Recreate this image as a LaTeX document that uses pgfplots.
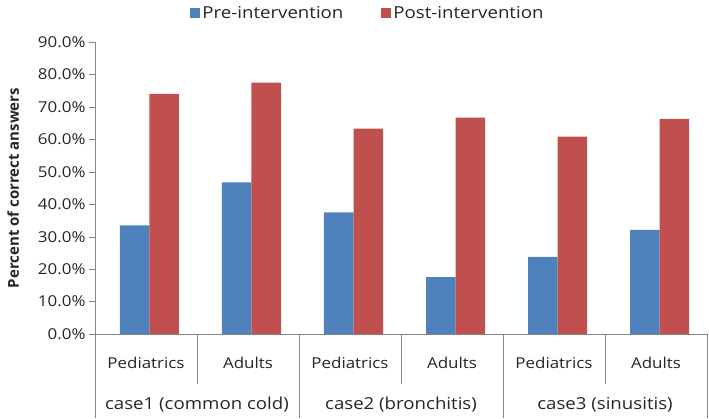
\documentclass[border=0pt]{standalone}
\usepackage{pgfplots}
\pgfplotsset{compat=1.18}
\usepackage{fontspec}
\setmainfont{Open Sans}
\newfontfamily\wide{Open Sans}[FakeStretch=1.13]
\definecolor{preblue}{HTML}{4F81BD}
\definecolor{postred}{HTML}{C0504D}
\definecolor{axgray}{HTML}{868686}

\begin{document}
\begin{tikzpicture}
\path[use as bounding box] (-95pt,-84pt) rectangle (614pt,334pt);
\begin{axis}[
    at={(0,0)}, anchor=south west,
    scale only axis,
    width=612pt, height=292pt,
    ybar=0pt, bar width=29.5pt,
    xmin=-0.5, xmax=5.5,
    ymin=0, ymax=90,
    ytick={0,10,...,90},
    yticklabel={\pgfmathprintnumber[fixed,fixed zerofill,precision=1]{\tick}\%},
    /pgf/number format/assume math mode=true,
    xtick={0,...,5},
    xticklabels={Pediatrics,Adults,Pediatrics,Adults,Pediatrics,Adults},
    x tick label style={yshift=-14pt},
    major x tick style={draw=none},
    ytick style={axgray},
    tick align=outside,
    major tick length=6pt,
    axis x line*=bottom, axis y line*=left,
    axis line style={axgray, -},
    ticklabel style={font=\wide\fontsize{15}{17}\selectfont, text=black!85},
    ylabel={\bfseries Percent of correct answers},
    ylabel style={font=\fontsize{15}{17}\selectfont, text=black!85, yshift=12pt},
    clip=false,
    legend style={draw=none, at={(0.446,1)}, anchor=south, yshift=18pt,
        legend columns=2, font=\wide\fontsize{16.5}{18}\selectfont, text=black!85,
        /tikz/every even column/.append style={column sep=36pt}},
    legend image code/.code={\fill[#1] (0pt,-5pt) rectangle (10pt,5pt);},
]
\addplot[fill=preblue, draw=none, bar shift=-11.25pt] coordinates {(0,33.5) (1,46.7) (2,37.5) (3,17.5) (4,23.8) (5,32.1)};
\addlegendentry{Pre-intervention}
\addplot[fill=postred, draw=none, bar shift=18.25pt] coordinates {(0,74.0) (1,77.5) (2,63.3) (3,66.7) (4,60.8) (5,66.3)};
\addlegendentry{Post-intervention}
\foreach \xx in {0.5,2.5,4.5} {
  \edef\temp{\noexpand\draw[axgray] (axis cs:\xx,0) -- ++(0pt,-50pt);}\temp
}
\foreach \xx in {-0.5,1.5,3.5,5.5} {
  \edef\temp{\noexpand\draw[axgray] (axis cs:\xx,0) -- ++(0pt,-84pt);}\temp
}
\node[font=\wide\fontsize{16.5}{18}\selectfont, text=black!85] at (axis cs:0.5,0) [yshift=-71pt] {case1 (common cold)};
\node[font=\wide\fontsize{16.5}{18}\selectfont, text=black!85] at (axis cs:2.5,0) [yshift=-71pt] {case2 (bronchitis)};
\node[font=\wide\fontsize{16.5}{18}\selectfont, text=black!85] at (axis cs:4.5,0) [yshift=-71pt] {case3 (sinusitis)};
\end{axis}
\end{tikzpicture}
\end{document}
